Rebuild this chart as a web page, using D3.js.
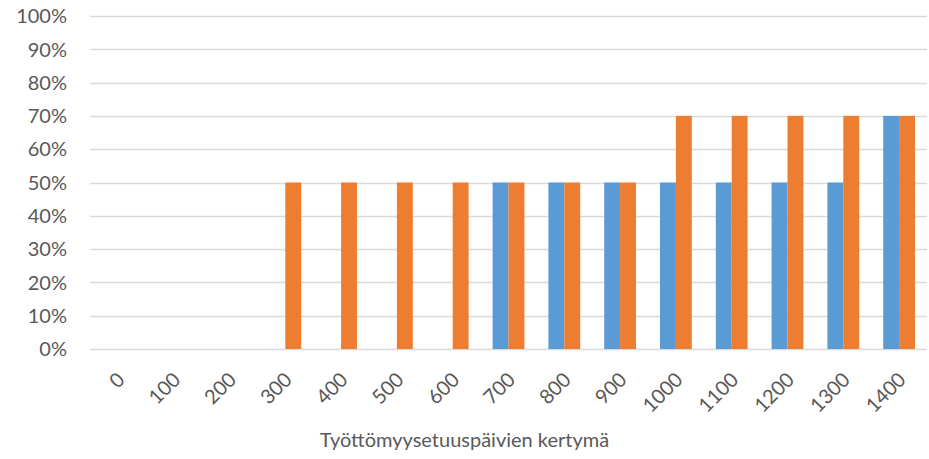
<!DOCTYPE html>
<html>
<head>
<meta charset="utf-8">
<script src="https://cdn.jsdelivr.net/npm/d3@7"></script>
<style>
  body { margin: 0; background: #fff; }
  text { font-family: Lato, "Open Sans", sans-serif; fill: #595959; }
</style>
</head>
<body>
<div id="chart"></div>
<script>
var categories = ["0","100","200","300","400","500","600","700","800","900","1000","1100","1200","1300","1400"];
var blueValues = [0, 0, 0, 0, 0, 0, 0, 0.5, 0.5, 0.5, 0.5, 0.5, 0.5, 0.5, 0.7];
var orangeValues = [0, 0, 0, 0.5, 0.5, 0.5, 0.5, 0.5, 0.5, 0.5, 0.7, 0.7, 0.7, 0.7, 0.7];
var yTicks = [0, 0.1, 0.2, 0.3, 0.4, 0.5, 0.6, 0.7, 0.8, 0.9, 1];
var seriesNames = ["blue", "orange"];
var seriesColors = ["#5B9BD5", "#ED7D31"];
var xTitle = "Työttömyysetuuspäivien kertymä";

var width = 929, height = 459;
var margin = {top: 16, right: 2, bottom: 110, left: 90};

var svg = d3.select("#chart").append("svg")
  .attr("width", width)
  .attr("height", height);

var innerW = width - margin.left - margin.right;
var innerH = height - margin.top - margin.bottom;

var g = svg.append("g")
  .attr("transform", "translate(" + margin.left + "," + margin.top + ")");

var x = d3.scaleBand().domain(categories).range([0, innerW]).paddingInner(0.43).paddingOuter(0.215);
var xSub = d3.scaleBand().domain(seriesNames).range([0, x.bandwidth()]);
var y = d3.scaleLinear().domain([0, 1]).range([innerH, 0]);

// gridlines
g.selectAll(".grid")
  .data(yTicks)
  .enter().append("line")
  .attr("x1", 0).attr("x2", innerW)
  .attr("y1", function(d) { return Math.round(y(d)) + 0.5; })
  .attr("y2", function(d) { return Math.round(y(d)) + 0.5; })
  .attr("stroke", "#D9D9D9")
  .attr("stroke-width", 1.3);

// y labels
g.selectAll(".ylab")
  .data(yTicks)
  .enter().append("text")
  .attr("x", -23)
  .attr("y", function(d) { return y(d); })
  .attr("dy", "0.36em")
  .attr("text-anchor", "end")
  .style("font-size", "20px")
  .text(function(d) { return d3.format(".0%")(d); });

var rows = categories.map(function(c, i) {
  return {cat: c, values: [blueValues[i], orangeValues[i]]};
});

var grp = g.selectAll(".cat")
  .data(rows)
  .enter().append("g")
  .attr("transform", function(d) { return "translate(" + x(d.cat) + ",0)"; });

grp.selectAll("rect")
  .data(function(d) { return d.values.map(function(v, j) { return {name: seriesNames[j], v: v, color: seriesColors[j]}; }); })
  .enter().append("rect")
  .attr("x", function(d) { return xSub(d.name); })
  .attr("width", xSub.bandwidth())
  .attr("y", function(d) { return y(d.v); })
  .attr("height", function(d) { return innerH - y(d.v); })
  .attr("fill", function(d) { return d.color; });

// x labels
g.selectAll(".xlab")
  .data(categories)
  .enter().append("text")
  .attr("text-anchor", "end")
  .attr("transform", function(d) {
    var cx = x(d) + x.bandwidth() / 2 + 3;
    return "translate(" + cx + "," + (innerH + 27) + ") rotate(-45)";
  })
  .attr("dy", "0.35em")
  .style("font-size", "20px")
  .text(function(d) { return d; });

svg.append("text")
  .attr("x", width / 2)
  .attr("y", 447)
  .attr("text-anchor", "middle")
  .style("font-size", "20px")
  .text(xTitle);
</script>
</body>
</html>
